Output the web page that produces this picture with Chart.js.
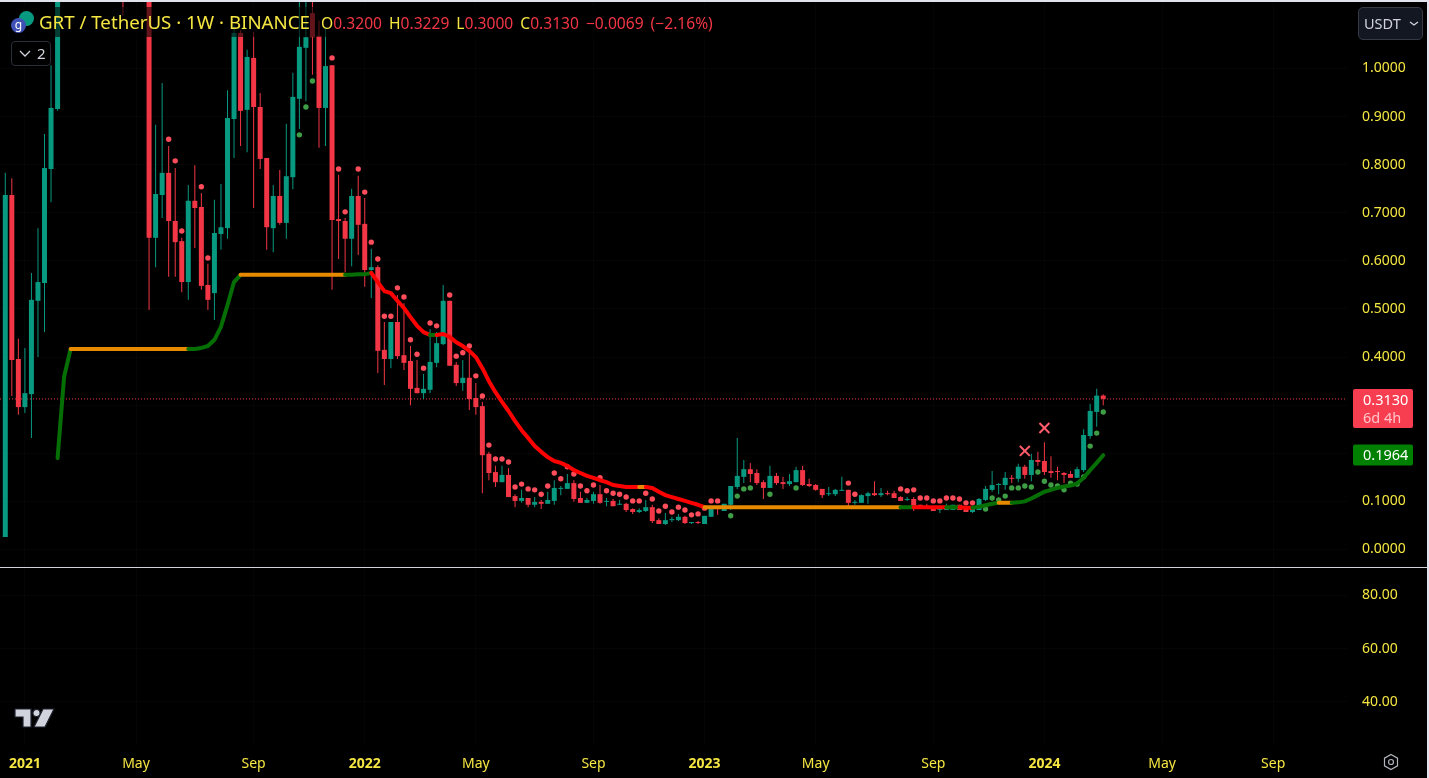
<!DOCTYPE html>
<html>
<head>
<meta charset="utf-8">
<title>GRT / TetherUS</title>
<script src="https://cdn.jsdelivr.net/npm/chart.js@4"></script>
<style>
  html, body { margin: 0; padding: 0; background: #000; overflow: hidden; }
  body { width: 1429px; height: 778px; position: relative; font-family: "Noto Sans", sans-serif; }
  canvas { position: absolute; left: 0; }
  #priceChart { top: 0; }
  #lowerChart { top: 568px; }
  #separator { position: absolute; left: 0; top: 567px; width: 1429px; height: 1px; background: #d1d4dc; }
  #topEdge { position: absolute; left: 0; top: 0; width: 1429px; height: 2px; background: #e0e3eb; }
  #rightEdge { position: absolute; right: 0; top: 0; width: 2px; height: 778px; background: #e0e3eb; }
  #legend { position: absolute; left: 8px; top: 7px; width: 712px; height: 30px; background: rgba(0,0,0,.6); white-space: nowrap; }
  #title { position: absolute; left: 31px; top: 2px; font-size: 18.7px; line-height: 26px; color: #f5e642; }
  #ohlc { position: absolute; left: 313px; top: 3px; font-size: 15.6px; line-height: 26px; color: #f23645; }
  #ohlc b { font-weight: 400; color: #f5e642; }
  #ohlc span { margin-right: 7px; }
  .coin { position: absolute; border-radius: 50%; width: 15px; height: 15px; }
  #coinA { left: 19px; top: 11px; background: #089981; }
  #coinB { left: 11px; top: 18px; background: #3f51b5; color: #fff; font-size: 12px; line-height: 13px; text-align: center; }
  #collapse { position: absolute; left: 11px; top: 41px; width: 38px; height: 23px; border: 1px solid #2a2e39; border-radius: 4px; color: #d1d4dc; font-size: 15px; line-height: 23px; background: #000; }
  #collapse svg { position: absolute; left: 7px; top: 8px; }
  #collapse span { position: absolute; left: 25px; top: 0; }
  #currency { position: absolute; left: 1358px; top: 7px; width: 63px; height: 31px; border: 1px solid #363a45; border-radius: 5px; background: #131722; color: #d1d4dc; font-size: 14.5px; line-height: 31px; }
  #currency span { position: absolute; left: 5px; }
  #currency svg { position: absolute; left: 50px; top: 13px; }
  #logo { position: absolute; left: 13px; top: 706px; }
  #gear { position: absolute; left: 1382px; top: 753px; }
</style>
</head>
<body>
<canvas id="priceChart" width="1429" height="567"></canvas>
<canvas id="lowerChart" width="1429" height="210"></canvas>
<div id="separator"></div>
<div id="topEdge"></div>
<div id="rightEdge"></div>
<div id="legend">
  <div id="title">GRT / TetherUS · 1W · BINANCE</div>
  <div id="ohlc"><span><b>O</b>0.3200</span><span><b>H</b>0.3229</span><span><b>L</b>0.3000</span><span><b>C</b>0.3130</span><span>−0.0069</span><span>(−2.16%)</span></div>
</div>
<div class="coin" id="coinA"></div>
<div class="coin" id="coinB">g</div>
<div id="collapse"><svg width="12" height="8"><path d="M1 1l5 5 5-5" fill="none" stroke="#d1d4dc" stroke-width="1.3"/></svg><span>2</span></div>
<div id="currency"><span>USDT</span><svg width="10" height="6"><path d="M1 1l4 3 4-3" fill="none" stroke="#d1d4dc" stroke-width="1.3"/></svg></div>
<svg id="logo" width="42" height="24"><g fill="#d1d4dc" stroke="#1e222d" stroke-width="1.2"><path d="M2 3H18V21H10V11H2Z"/><circle cx="23.5" cy="7" r="3.6"/><path d="M30 3H41L32 21H21Z"/></g></svg>
<svg id="gear" width="18" height="18"><path d="M9 1.5l6.5 3.7v7.6L9 16.5l-6.5-3.7V5.2z" fill="none" stroke="#b2b5be" stroke-width="1.2"/><circle cx="9" cy="9" r="2.5" fill="none" stroke="#b2b5be" stroke-width="1.2"/></svg>

<script>
// weekly candles, week 0 is the first GRT bar on Binance
const opens = [
  .026,.737,.396,.296,.323,.517,.554,.791,.916,1.32,1.62,2.05,2.35,1.85,1.62,1.95,1.72,1.45,1.60,1.38,
  1.75,2.1,1.5,.648,.737,.783,.683,.641,.556,.725,.712,.550,.533,.656,.668,.895,1.074,.914,1.022,.920,
  .814,.668,.735,.679,.774,.937,1.043,1.115,1.068,.918,1.007,.687,.683,.646,.735,.677,.581,.587,.415,.396,
  .473,.404,.392,.336,.325,.332,.388,.427,.517,.384,.346,.357,.315,.298,.199,.161,.140,.155,.111,.101,
  .107,.093,.099,.095,.101,.126,.126,.138,.107,.097,.101,.115,.099,.101,.093,.095,.084,.078,.080,.088,
  .061,.053,.061,.061,.068,.055,.057,.053,.068,.086,.080,.093,.130,.151,.167,.159,.140,.128,.153,.140,
  .136,.140,.165,.136,.134,.126,.115,.115,.122,.124,.097,.097,.111,.117,.113,.117,.117,.109,.103,.105,
  .093,.090,.086,.082,.082,.082,.093,.086,.078,.082,.103,.124,.134,.134,.149,.147,.172,.155,.186,.184,
  .163,.163,.159,.157,.149,.165,.236,.286,.3200];
const closes = [
  .737,.394,.296,.325,.519,.556,.793,.918,1.32,1.62,2.05,2.35,1.85,1.62,1.95,1.72,1.45,1.60,1.38,1.75,
  2.1,1.5,.648,.739,.783,.683,.639,.556,.725,.710,.548,.519,.658,.670,.897,1.074,.912,1.024,.920,.812,
  .670,.735,.679,.776,.941,1.045,1.065,1.065,.918,1.005,.685,.683,.646,.735,.675,.581,.587,.413,.396,.473,
  .402,.388,.334,.325,.334,.390,.429,.517,.382,.346,.357,.313,.296,.196,.159,.140,.155,.109,.101,.107,
  .093,.099,.095,.103,.128,.128,.138,.105,.097,.103,.115,.097,.101,.090,.095,.082,.078,.082,.088,.059,
  .053,.061,.063,.068,.055,.057,.055,.070,.084,.084,.095,.132,.153,.167,.157,.138,.128,.153,.138,.136,
  .142,.165,.134,.132,.124,.113,.117,.124,.124,.097,.099,.113,.117,.113,.117,.115,.107,.101,.105,.090,
  .086,.088,.080,.084,.086,.093,.082,.078,.084,.105,.126,.134,.136,.149,.147,.172,.155,.186,.182,.161,
  .159,.161,.155,.149,.167,.238,.288,.320,.3130];
const highs = [
  .783,.772,.438,.419,.575,.668,.864,1.007,1.45,1.75,2.2,2.88,2.5,2.0,2.1,2.05,1.9,1.72,1.75,1.9,
  2.3,2.25,1.6,.883,.970,.839,.793,.648,.758,.799,.741,.594,.727,.760,.955,1.09,1.08,1.039,1.076,.949,
  .814,.758,.789,.885,.991,1.16,1.20,1.20,1.10,1.086,1.007,.779,.689,.750,.777,.731,.625,.591,.473,.473,
  .529,.512,.423,.394,.365,.458,.452,.550,.517,.390,.394,.411,.346,.307,.203,.174,.174,.169,.115,.124,
  .107,.109,.103,.120,.144,.132,.157,.144,.120,.107,.120,.134,.107,.105,.103,.097,.086,.086,.103,.093,
  .065,.076,.068,.074,.070,.057,.059,.070,.088,.088,.095,.132,.232,.186,.180,.167,.144,.174,.159,.151,
  .157,.172,.174,.147,.136,.126,.130,.126,.151,.124,.103,.115,.120,.142,.128,.122,.122,.111,.109,.109,
  .093,.095,.086,.088,.095,.093,.093,.088,.084,.107,.132,.163,.138,.161,.155,.178,.176,.199,.203,.223,
  .194,.172,.161,.163,.172,.250,.303,.334,.3229];
const lows = [
  .026,.319,.280,.284,.232,.400,.452,.722,.912,1.25,1.5,1.9,1.55,1.4,1.5,1.55,1.3,1.3,1.11,1.28,
  1.6,1.2,.498,.587,.689,.567,.567,.535,.519,.627,.540,.498,.477,.623,.646,.814,.839,.826,.710,.791,
  .623,.618,.675,.646,.749,.874,.932,.987,.835,.839,.540,.604,.577,.589,.612,.546,.523,.367,.342,.377,
  .396,.373,.300,.325,.313,.325,.379,.425,.382,.340,.330,.290,.280,.117,.144,.130,.140,.109,.088,.097,
  .088,.088,.084,.095,.093,.113,.126,.099,.097,.097,.095,.095,.090,.090,.093,.078,.074,.076,.078,.055,
  .053,.051,.057,.059,.053,.053,.053,.053,.068,.072,.080,.082,.126,.138,.140,.134,.105,.128,.134,.126,
  .132,.140,.132,.130,.122,.107,.111,.111,.122,.086,.093,.097,.095,.111,.109,.113,.107,.101,.101,.080,
  .086,.084,.080,.076,.082,.082,.082,.078,.076,.082,.101,.120,.115,.124,.138,.140,.147,.142,.174,.155,
  .149,.144,.138,.149,.149,.161,.230,.255,.3000];

// dots above and below price
const sarRedWeeks = [25,26,27,30,31,50,51,52,54,55,56,57,58,59,60,61,62,63,64,65,66,68,69,70,71,72,
  73,74,75,76,77,78,79,80,81,82,83,84,85,86,87,88,89,90,91,92,93,94,95,96,97,98,99,100,101,102,103,104,105,106,107,108,109,
  129,130,137,138,139,140,141,142,143,144,145,146,147,148];
const sarRedPrices = [.853,.808,.662,.754,.606,1.022,.791,.702,.791,.743,.639,.604,.485,.485,.544,.525,.436,.406,.377,.471,.465,.529,.402,.409,.423,.361,
  .319,.217,.188,.188,.182,.130,.136,.126,.124,.115,.132,.159,.147,.172,.157,.132,.122,.134,.149,.122,.117,.115,.109,.101,.101,.117,.105,.080,.090,.078,.088,.082,.072,.074,.086,.101,.101,
  .138,.115,.126,.122,.124,.107,.107,.101,.101,.107,.107,.105,.097,.097];
const sarGreenWeeks = [45,46,47,111,112,113,114,117,121,150,151,152,153,154,155,156,157,158,159,160,161,162,163,164,165,166,167,168];
const sarGreenPrices = [.862,.920,.974,.070,.111,.126,.128,.115,.128,.084,.107,.103,.111,.128,.128,.132,.130,.161,.142,.134,.132,.124,.138,.136,.151,.215,.242,.286];

// trend line, one value per week from week 8 to week 168
const trendStart = 8;
const trendValues = [
  .190,.359,
  .417,.417,.417,.417,.417,.417,.417,.417,.417,.417,.417,.417,.417,.417,.417,.417,.417,.417,.417,.417,
  .419,.423,.436,.463,.508,.556,.571,
  .571,.571,.571,.571,.571,.571,.571,.571,.571,.571,.571,.571,.571,.571,.571,.571,.571,
  .572,.572,.575,.556,.537,.533,.517,.502,.483,.465,.452,.446,.446,.448,.442,.431,.423,.413,.400,.377,.350,.327,.307,.288,.267,.248,.232,.215,.203,.192,.184,.180,.174,.165,.159,.153,.149,.144,.140,.134,.132,.130,.130,.130,.130,.128,.120,.113,.109,.105,.101,.097,.093,
  .088,.088,.088,.088,.088,.088,.088,.088,.088,.088,.088,.088,.088,.088,.088,.088,.088,.088,.088,.088,
  .088,.088,.088,.088,.088,.088,.088,.088,.088,.088,.088,.088,.088,.088,.088,.088,.088,.088,.088,.088,
  .087,.087,.089,.092,.095,.097,.097,.097,.098,.100,.106,.113,.120,.124,.128,.131,.133,.137,.149,.165,.180,.196];
// [last week of the stretch, state]
const trendStates = [[10,"up"],[28,"flat"],[36,"up"],[52,"flat"],[56,"up"],[65,"down"],[66,"up"],[97,"down"],[98,"flat"],[107,"down"],
  [137,"flat"],[139,"up"],[144,"down"],[146,"up"],[148,"down"],[152,"up"],[154,"flat"],[168,"up"]];

const crossWeeks = [156, 159];
const crossPrices = [.205, .2526];

const priceTicks = [0, .1, .2, .3, .4, .5, .6, .7, .8, .9, 1];
const lowerTicks = [40, 60, 80];
const tickWeeks = [3, 20, 38, 55, 72, 90, 107, 124, 142, 159, 177, 194];
const tickLabels = ["2021", "May", "Sep", "2022", "May", "Sep", "2023", "May", "Sep", "2024", "May", "Sep"];

const lastClose = .3130;
const lastTrend = .1964;

const greenColor = "#089981";
const redColor = "#f23645";
const yellow = "#f5e642";
const gridColor = "rgba(255,255,255,.02)";
const fontFamily = '"Noto Sans", sans-serif';
const xMin = -0.81, xMax = 205.3;

const weeks = opens.map((v, i) => i);
const candleColors = weeks.map(i => closes[i] >= opens[i] ? greenColor : redColor);

function trendColor(week) {
  const state = trendStates.find(s => week < s[0]);
  const name = state ? state[1] : "up";
  if (name === "flat") return "#e88a00";
  if (name === "down") return "#ff0000";
  return "#056f05";
}

// the scales add tick padding around the plot, drop it
function fitPriceAxis(s) {
  s.width = 82;
  s.paddingTop = 0;
  s.paddingBottom = 0;
}
function fitTimeAxis(s) {
  s.height = 33;
  s.paddingLeft = 0;
  s.paddingRight = 0;
}

// price tags in the right axis
const priceTags = {
  id: "priceTags",
  afterDraw(chart) {
    const ctx = chart.ctx;
    const y = chart.scales.y;
    ctx.save();
    ctx.textBaseline = "middle";
    ctx.textAlign = "left";
    ctx.font = "14.5px " + fontFamily;

    const redY = y.getPixelForValue(lastClose);
    ctx.fillStyle = "#f73e50";
    ctx.beginPath();
    ctx.roundRect(1353, redY - 10, 60, 39, 2);
    ctx.fill();
    ctx.fillStyle = "#fff";
    ctx.fillText(lastClose.toFixed(4), 1363, redY + 1.5);
    ctx.fillStyle = "#ffc4ca";
    ctx.fillText("6d 4h", 1363, redY + 20);

    const greenY = y.getPixelForValue(lastTrend);
    ctx.fillStyle = "#008000";
    ctx.beginPath();
    ctx.roundRect(1353, greenY - 10.5, 60, 21, 2);
    ctx.fill();
    ctx.fillStyle = "#fff";
    ctx.fillText(lastTrend.toFixed(4), 1363, greenY + 1);
    ctx.restore();
  }
};

new Chart(document.getElementById("priceChart"), {
  type: "bar",
  data: {
    datasets: [
      {
        type: "line",
        data: [{ x: xMin, y: lastClose }, { x: xMax + 0.5, y: lastClose }],
        borderColor: redColor,
        borderWidth: 1,
        borderDash: [1, 2],
        pointRadius: 0,
        order: 7
      },
      {
        data: weeks.map(i => ({ x: i, y: [lows[i], highs[i]] })),
        backgroundColor: candleColors,
        barThickness: 1,
        inflateAmount: 0,
        order: 6
      },
      {
        data: weeks.map(i => ({ x: i, y: [opens[i], closes[i]] })),
        backgroundColor: candleColors,
        barThickness: 5,
        minBarLength: 1,
        inflateAmount: 0,
        order: 5
      },
      {
        type: "line",
        data: sarRedWeeks.map((w, i) => ({ x: w, y: sarRedPrices[i] })),
        showLine: false,
        pointRadius: 2.7,
        pointBorderWidth: 0,
        pointBackgroundColor: "#ff4d5c",
        order: 4
      },
      {
        type: "line",
        data: sarGreenWeeks.map((w, i) => ({ x: w, y: sarGreenPrices[i] })),
        showLine: false,
        pointRadius: 2.7,
        pointBorderWidth: 0,
        pointBackgroundColor: "#3f9e45",
        order: 4
      },
      {
        type: "line",
        data: trendValues.map((v, i) => ({ x: trendStart + i, y: v })),
        borderWidth: 4,
        tension: 0,
        pointRadius: 0,
        borderCapStyle: "round",
        borderJoinStyle: "round",
        segment: { borderColor: c => trendColor(trendStart + c.p0DataIndex) },
        order: 3
      },
      {
        type: "line",
        data: crossWeeks.map((w, i) => ({ x: w, y: crossPrices[i] })),
        showLine: false,
        pointStyle: "crossRot",
        pointRadius: 7,
        pointBorderWidth: 2,
        pointBorderColor: "#ff5c6c",
        order: 2
      }
    ]
  },
  options: {
    responsive: false,
    animation: false,
    devicePixelRatio: 1,
    layout: { padding: 0, autoPadding: false },
    datasets: { bar: { grouped: false } },
    plugins: { legend: { display: false }, tooltip: { enabled: false } },
    scales: {
      x: {
        type: "linear",
        offset: false,
        min: xMin,
        max: xMax,
        afterBuildTicks: s => { s.ticks = tickWeeks.map(v => ({ value: v })); },
        afterFit: s => { s.height = 0; },
        grid: { color: gridColor, offset: false, drawTicks: false },
        border: { display: false },
        ticks: { display: false }
      },
      y: {
        position: "right",
        min: -0.0364,
        max: 1.1424,
        afterBuildTicks: s => { s.ticks = priceTicks.map(v => ({ value: v })); },
        afterFit: fitPriceAxis,
        grid: { color: gridColor, drawTicks: false },
        border: { display: false },
        ticks: {
          color: yellow,
          padding: 15,
          font: { family: fontFamily, size: 14 },
          callback: v => v.toFixed(4)
        }
      }
    }
  },
  plugins: [priceTags]
});

new Chart(document.getElementById("lowerChart"), {
  type: "scatter",
  data: { datasets: [{ data: [] }] },
  options: {
    responsive: false,
    animation: false,
    devicePixelRatio: 1,
    layout: { padding: 0, autoPadding: false },
    plugins: { legend: { display: false }, tooltip: { enabled: false } },
    scales: {
      x: {
        type: "linear",
        min: xMin,
        max: xMax,
        afterBuildTicks: s => { s.ticks = tickWeeks.map(v => ({ value: v })); },
        afterFit: fitTimeAxis,
        grid: { color: gridColor, drawTicks: false },
        border: { display: false },
        ticks: {
          color: yellow,
          padding: 11,
          autoSkip: false,
          maxRotation: 0,
          font: c => ({ family: fontFamily, size: 14, weight: /^\d/.test(tickLabels[c.index]) ? "700" : "400" }),
          callback: (v, i) => tickLabels[i]
        }
      },
      y: {
        position: "right",
        min: 23.8,
        max: 90.3,
        afterBuildTicks: s => { s.ticks = lowerTicks.map(v => ({ value: v })); },
        afterFit: fitPriceAxis,
        grid: { color: gridColor, drawTicks: false },
        border: { display: false },
        ticks: {
          color: yellow,
          padding: 15,
          font: { family: fontFamily, size: 14 },
          callback: v => v.toFixed(2)
        }
      }
    }
  }
});
</script>
</body>
</html>
